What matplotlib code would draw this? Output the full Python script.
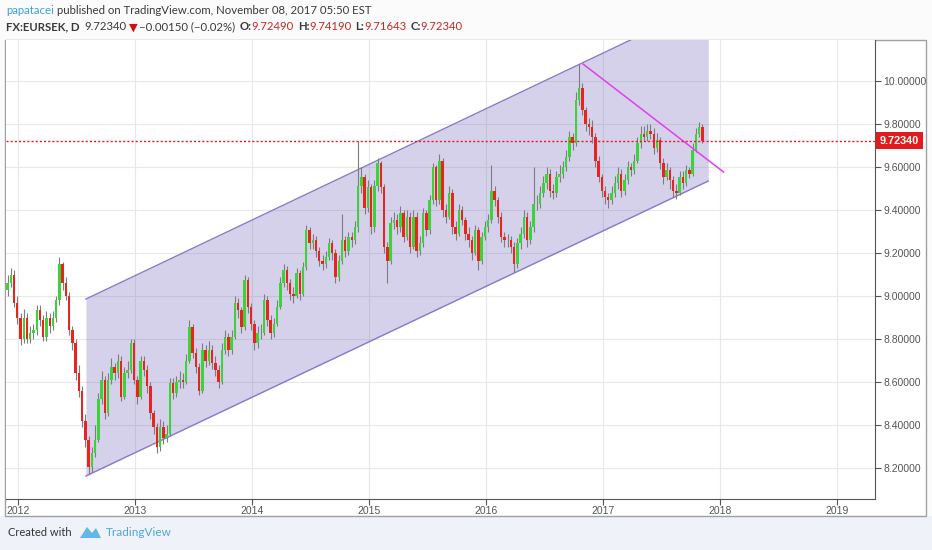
import numpy as np
import matplotlib
matplotlib.use("Agg")
import matplotlib.pyplot as plt
import matplotlib.transforms as mtransforms
from matplotlib.patches import Rectangle, Polygon

# EURSEK daily, every 1.5 weeks (close values)
first_open = 9.03
closes = [9.06, 9.10, 8.97, 8.90, 8.80, 8.90, 8.80, 8.83, 8.84, 8.935,
          8.89, 8.81, 8.90, 8.86, 8.90, 8.98, 9.15, 9.06, 9.00, 8.84,
          8.78, 8.64, 8.56, 8.42, 8.33, 8.205, 8.27, 8.33, 8.52, 8.61,
          8.455, 8.61, 8.67, 8.64, 8.70, 8.53, 8.64, 8.655, 8.78, 8.61,
          8.53, 8.70, 8.655, 8.58, 8.455, 8.39, 8.30, 8.39, 8.34, 8.36,
          8.595, 8.55, 8.60, 8.61, 8.60, 8.70, 8.855, 8.735, 8.67, 8.56,
          8.75, 8.70, 8.75, 8.69, 8.655, 8.60, 8.75, 8.81, 8.75, 8.81,
          8.97, 8.935, 8.855, 9.075, 8.95, 8.87, 8.78, 8.83, 8.83, 8.98,
          8.89, 8.83, 8.87, 8.95, 9.06, 9.12, 9.06, 9.01, 9.00, 9.105,
          9.01, 9.135, 9.305, 9.245, 9.26, 9.21, 9.165, 9.15, 9.18, 9.245,
          9.20, 9.09, 9.165, 9.26, 9.21, 9.275, 9.26, 9.32, 9.51, 9.555,
          9.41, 9.505, 9.32, 9.51, 9.62, 9.505, 9.23, 9.165, 9.34, 9.355,
          9.32, 9.385, 9.275, 9.37, 9.23, 9.37, 9.21, 9.245, 9.385, 9.305,
          9.445, 9.60, 9.445, 9.63, 9.40, 9.37, 9.48, 9.32, 9.29, 9.40,
          9.355, 9.29, 9.26, 9.20, 9.305, 9.165, 9.275, 9.32, 9.355, 9.49,
          9.445, 9.37, 9.275, 9.26, 9.26, 9.23, 9.15, 9.245, 9.29, 9.37,
          9.26, 9.32, 9.43, 9.43, 9.48, 9.525, 9.57, 9.49, 9.48, 9.555,
          9.57, 9.60, 9.645, 9.74, 9.71, 9.91, 9.97, 9.865, 9.80, 9.785,
          9.74, 9.63, 9.555, 9.49, 9.46, 9.445, 9.48, 9.525, 9.57, 9.49,
          9.54, 9.60, 9.585, 9.63, 9.71, 9.755, 9.74, 9.77, 9.755, 9.69,
          9.725, 9.62, 9.555, 9.585, 9.54, 9.49, 9.48, 9.555, 9.525, 9.585,
          9.57, 9.68, 9.755, 9.785, 9.7234]
highs = [9.10, 9.13, 9.12, 9.00, 8.92, 8.94, 8.92, 8.86, 8.87, 8.96,
         8.96, 8.91, 8.93, 8.92, 8.93, 9.00, 9.18, 9.16, 9.09, 9.02,
         8.86, 8.80, 8.68, 8.58, 8.45, 8.35, 8.30, 8.40, 8.55, 8.65,
         8.63, 8.64, 8.71, 8.69, 8.73, 8.72, 8.67, 8.70, 8.80, 8.80,
         8.63, 8.72, 8.72, 8.68, 8.60, 8.47, 8.41, 8.43, 8.42, 8.40,
         8.62, 8.62, 8.63, 8.65, 8.64, 8.73, 8.89, 8.87, 8.76, 8.69,
         8.78, 8.77, 8.79, 8.77, 8.72, 8.68, 8.78, 8.84, 8.83, 8.84,
         9.00, 8.99, 8.95, 9.10, 9.09, 8.97, 8.89, 8.86, 8.87, 9.01,
         9.00, 8.91, 8.90, 8.98, 9.09, 9.15, 9.14, 9.08, 9.04, 9.13,
         9.12, 9.16, 9.33, 9.32, 9.29, 9.28, 9.23, 9.19, 9.21, 9.27,
         9.26, 9.22, 9.19, 9.38, 9.28, 9.30, 9.30, 9.35, 9.72, 9.60,
         9.57, 9.54, 9.52, 9.54, 9.64, 9.63, 9.52, 9.25, 9.37, 9.39,
         9.38, 9.42, 9.40, 9.40, 9.39, 9.40, 9.39, 9.28, 9.41, 9.40,
         9.47, 9.62, 9.61, 9.66, 9.64, 9.43, 9.51, 9.50, 9.35, 9.43,
         9.42, 9.37, 9.32, 9.28, 9.33, 9.32, 9.30, 9.35, 9.38, 9.61,
         9.51, 9.46, 9.39, 9.30, 9.29, 9.28, 9.25, 9.27, 9.32, 9.40,
         9.39, 9.35, 9.60, 9.47, 9.51, 9.56, 9.60, 9.59, 9.52, 9.58,
         9.61, 9.63, 9.68, 9.77, 9.76, 9.95, 10.08, 9.99, 9.88, 9.83,
         9.82, 9.76, 9.65, 9.57, 9.51, 9.48, 9.51, 9.56, 9.60, 9.59,
         9.57, 9.63, 9.62, 9.66, 9.74, 9.79, 9.79, 9.80, 9.80, 9.78,
         9.76, 9.74, 9.64, 9.62, 9.60, 9.56, 9.52, 9.58, 9.58, 9.61,
         9.60, 9.71, 9.78, 9.81, 9.80]
lows = [9.00, 9.04, 8.95, 8.87, 8.77, 8.78, 8.78, 8.78, 8.80, 8.82,
        8.86, 8.79, 8.79, 8.83, 8.84, 8.88, 8.96, 9.03, 8.98, 8.82,
        8.75, 8.61, 8.53, 8.39, 8.30, 8.17, 8.18, 8.25, 8.32, 8.50,
        8.43, 8.44, 8.59, 8.61, 8.62, 8.51, 8.52, 8.62, 8.64, 8.59,
        8.50, 8.52, 8.63, 8.55, 8.43, 8.36, 8.27, 8.28, 8.31, 8.32,
        8.35, 8.52, 8.53, 8.57, 8.57, 8.59, 8.69, 8.71, 8.64, 8.54,
        8.55, 8.67, 8.68, 8.66, 8.63, 8.57, 8.59, 8.73, 8.72, 8.73,
        8.80, 8.90, 8.83, 8.84, 8.92, 8.84, 8.75, 8.76, 8.80, 8.82,
        8.86, 8.80, 8.81, 8.86, 8.94, 9.04, 9.03, 8.98, 8.97, 8.99,
        8.98, 9.00, 9.12, 9.22, 9.22, 9.18, 9.14, 9.12, 9.13, 9.17,
        9.17, 9.06, 9.07, 9.15, 9.18, 9.19, 9.23, 9.24, 9.30, 9.48,
        9.38, 9.39, 9.29, 9.30, 9.49, 9.48, 9.20, 9.06, 9.15, 9.31,
        9.29, 9.30, 9.25, 9.26, 9.20, 9.22, 9.18, 9.19, 9.23, 9.28,
        9.29, 9.43, 9.42, 9.43, 9.37, 9.34, 9.36, 9.29, 9.26, 9.28,
        9.33, 9.26, 9.23, 9.17, 9.19, 9.12, 9.15, 9.26, 9.30, 9.34,
        9.42, 9.34, 9.25, 9.23, 9.23, 9.20, 9.11, 9.13, 9.22, 9.27,
        9.23, 9.24, 9.30, 9.40, 9.41, 9.46, 9.50, 9.46, 9.45, 9.46,
        9.53, 9.55, 9.58, 9.63, 9.68, 9.70, 9.89, 9.84, 9.77, 9.75,
        9.71, 9.60, 9.53, 9.46, 9.43, 9.41, 9.43, 9.46, 9.50, 9.46,
        9.47, 9.52, 9.56, 9.57, 9.62, 9.69, 9.72, 9.72, 9.73, 9.66,
        9.67, 9.59, 9.52, 9.54, 9.50, 9.46, 9.45, 9.47, 9.50, 9.51,
        9.55, 9.56, 9.67, 9.74, 9.71]

t_start, t_end = 2011.91, 2017.85   # first and last candle (decimal year)
last_price = 9.7234

# drawings on the chart (decimal year, price)
channel_x = [2012.58, 2017.90]
channel_low = [8.163, 9.535]
channel_high = [8.986, 10.363]
trend_x = [2016.83, 2018.03]
trend_y = [10.079, 9.577]

years = [2012, 2013, 2014, 2015, 2016, 2017, 2018, 2019]
price_ticks = [8.2, 8.4, 8.6, 8.8, 9.0, 9.2, 9.4, 9.6, 9.8, 10.0]

W, H = 932, 550
fig = plt.figure(figsize=(W / 100, H / 100), dpi=100, facecolor="#fbfbfc")

footer = Rectangle((0, 0), 1, 34 / H, transform=fig.transFigure,
                   facecolor="#eff2f8", edgecolor="none", zorder=-20)
panel = Rectangle((5 / W, 1 - 516 / H), 921 / W, 476 / H, transform=fig.transFigure,
                  facecolor="white", edgecolor="#a0a0a0", lw=1, zorder=-10)
fig.patches.extend([footer, panel])

ax = fig.add_axes([6 / W, 1 - 499 / H, 869 / W, 459 / H])
ax.set_facecolor("white")
ax.set_xlim(2011.897, 2019.325)
ax.set_ylim(8.056, 10.191)

ax.set_xticks(years)
ax.set_xticklabels([str(y) for y in years])
ax.set_yticks(price_ticks)
ax.set_yticklabels(["%.5f" % p for p in price_ticks])
ax.yaxis.tick_right()
ax.grid(color="#e8e8e8", lw=0.8)
ax.set_axisbelow(True)
for s in ["left", "top"]:
    ax.spines[s].set_visible(False)
for s in ["right", "bottom"]:
    ax.spines[s].set_color("#555555")
ax.tick_params(axis="y", length=4, color="#555555", labelsize=7.5, labelcolor="#555555", pad=2)
ax.tick_params(axis="x", length=4, color="#555555", labelsize=7.5, labelcolor="#555555", pad=1)
for lab in ax.get_yticklabels():
    lab.set_family(["Liberation Sans", "DejaVu Sans"])
for lab in ax.get_xticklabels():
    lab.set_family(["Liberation Sans Narrow", "Liberation Sans", "DejaVu Sans"])

# channel
ax.fill_between(channel_x, channel_low, channel_high, color="#7568c0", alpha=0.3, lw=0, zorder=1)
ax.plot(channel_x, channel_low, color="#8b79c9", lw=1, zorder=2)
ax.plot(channel_x, channel_high, color="#8b79c9", lw=1, zorder=2)

# candles
t = np.linspace(t_start, t_end, len(closes))
c = np.array(closes)
o = np.array([first_open] + closes[:-1])
hi = np.maximum(np.array(highs), np.maximum(o, c))
lo = np.minimum(np.array(lows), np.minimum(o, c))
up = c >= o
ax.vlines(t, lo, hi, color="#7d7d7d", lw=0.8, zorder=3)
ax.bar(t, c - o, bottom=o, width=0.021, color=np.where(up, "#3ad33a", "#e8241c"), lw=0, zorder=4)

# trend line and last price
ax.plot(trend_x, trend_y, color="#e040e8", lw=1.1, zorder=5)
ax.axhline(last_price, color="#e51c1c", lw=1, ls=(0, (1.5, 1.5)), zorder=5)
trans = mtransforms.blended_transform_factory(ax.transAxes, ax.transData)
ax.text(1 + 5 / 869, last_price, "%.5f" % last_price, transform=trans, ha="left", va="center",
        color="white", fontweight="bold", fontsize=7.8, family=["Liberation Sans", "DejaVu Sans"],
        bbox=dict(boxstyle="square,pad=0.35", fc="#e21c1c", ec="none"), zorder=6)

# header
hfont = ["Lato", "DejaVu Sans"]
renderer = fig.canvas.get_renderer()


def put_line(y_px, parts, size):
    x = 6
    for s, col, w, gap in parts:
        txt = fig.text(x / W, 1 - y_px / H, s, color=col, fontweight=w, fontsize=size,
                       family=hfont, va="center", ha="left")
        x += txt.get_window_extent(renderer=renderer).width + gap


dark = "#3a3a3a"
red = "#c62828"
put_line(10, [("papatacei", "#3fa0dc", "normal", 3),
              ("published on TradingView.com, November 08, 2017 05:50 EST", dark, "normal", 0)], 8.2)
put_line(27, [("FX:EURSEK, D", dark, "bold", 5),
              ("9.72340", dark, "normal", 2),
              ("▼", "#d01010", "normal", 2),
              ("\u22120.00150 (\u22120.02%)", dark, "normal", 4),
              ("O:", dark, "bold", 0), ("9.72490", red, "normal", 4),
              ("H:", dark, "bold", 0), ("9.74190", red, "normal", 4),
              ("L:", dark, "bold", 0), ("9.71643", red, "normal", 4),
              ("C:", dark, "bold", 0), ("9.72340", red, "normal", 0)], 8.2)

# footer
fig.text(8 / W, 1 - 533 / H, "Created with", color="#333333", fontsize=8, family=hfont, va="center")
logo = Polygon([(80 / W, 1 - 538 / H), (87 / W, 1 - 527 / H), (92 / W, 1 - 533 / H),
                (96 / W, 1 - 528 / H), (101 / W, 1 - 538 / H)], closed=True,
               transform=fig.transFigure, facecolor="#5fb8e6", edgecolor="none")
fig.patches.append(logo)
fig.text(106 / W, 1 - 533 / H, "TradingView", color="#4aa8d8", fontsize=8.5, family=hfont, va="center")

fig.savefig("out.png", dpi=100, facecolor=fig.get_facecolor())
